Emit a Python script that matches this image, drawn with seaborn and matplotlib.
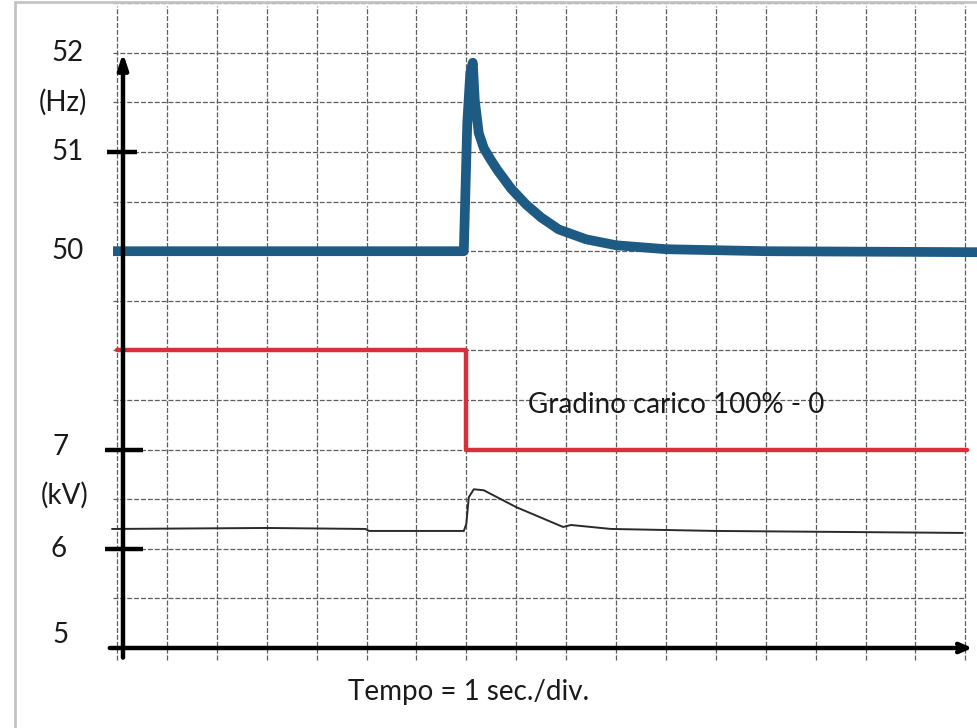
import matplotlib
matplotlib.use("Agg")
import matplotlib.pyplot as plt
from matplotlib.lines import Line2D
import seaborn as sns
import numpy as np

# frequency trace (s, Hz)
freq_t = [-0.08, 3.0, 6.95, 7.02, 7.08, 7.13, 7.17, 7.25, 7.35, 7.48, 7.62, 7.9, 8.2, 8.5, 8.85, 9.4, 10.0, 11.0, 13.0, 17.25]
freq_hz = [50.0, 50.0, 50.0, 51.3, 51.8, 51.9, 51.52, 51.19, 51.04, 50.93, 50.82, 50.63, 50.47, 50.34, 50.22, 50.12, 50.06, 50.02, 50.0, 49.99]

# voltage trace (s, kV)
volt_t = [-0.1, 3.0, 4.98, 5.05, 6.95, 7.0, 7.05, 7.15, 7.35, 8.0, 8.94, 9.1, 9.9, 12.0, 16.95]
volt_kv = [6.20, 6.21, 6.20, 6.18, 6.18, 6.25, 6.52, 6.60, 6.59, 6.42, 6.22, 6.24, 6.20, 6.18, 6.16]

# load step (s, %)
load_t = [0.0, 7.0, 17.03]
load_pct = [100, 0, 0]

hz_ticks = [52, 51, 50]
kv_ticks = [7, 6, 5]


# chart paper: 2 div per Hz (50 Hz at div 8), 2 div per kV (5 kV at div 0)
def hz_div(f):
    return 8 + 2 * (np.asarray(f) - 50)


def kv_div(v):
    return 2 * (np.asarray(v) - 5)


def load_div(p):
    return 4 + 2 * np.asarray(p) / 100


sns.set_style("white")
plt.rcParams['font.family'] = ['Lato', 'DejaVu Sans']

fig = plt.figure(figsize=(9.78, 7.28), dpi=100)
ax = fig.add_axes([0, 0, 1, 1])
ax.set_xlim(-117 / 49.9, (978 - 117) / 49.9)
ax.set_ylim(-80 / 49.6, 648 / 49.6)
ax.axis("off")

# grid of the recorder paper
grid_kw = dict(color="#5e5e5e", lw=0.9, linestyle=(0, (4, 1.5)), zorder=1)
ax.vlines(np.arange(0, 18), -0.25, 12.95, **grid_kw)
ax.hlines(np.arange(1, 14), -0.08, 17.0, **grid_kw)

sns.lineplot(x=load_t, y=load_div(load_pct), ax=ax, color="#d8303a", lw=3.2,
             drawstyle="steps-post", zorder=3)
sns.lineplot(x=freq_t, y=hz_div(freq_hz), ax=ax, color="#1e5b84", lw=7,
             solid_capstyle="butt", zorder=4)
sns.lineplot(x=volt_t, y=kv_div(volt_kv), ax=ax, color="#2a2a2a", lw=1.4, zorder=4)

# axes arrows
ax.annotate("", xy=(0.12, 12.05), xytext=(0.12, -0.25),
            arrowprops=dict(arrowstyle="-|>,head_width=0.3,head_length=0.9",
                            color="black", lw=3.2), zorder=5)
ax.annotate("", xy=(17.2, 0), xytext=(-0.2, 0),
            arrowprops=dict(arrowstyle="->,head_width=0.3,head_length=0.7",
                            color="black", lw=3.2), zorder=5)

# tick marks
ax.hlines(hz_div(51), -0.2, 0.4, color="black", lw=3.2, zorder=5)
ax.hlines(kv_div([7, 6]), -0.24, 0.52, color="black", lw=3.2, zorder=5)

lab = dict(fontsize=20, ha="center", va="center", color="#1a1a1a")
for f in hz_ticks:
    ax.text(-1.0, hz_div(f), str(f), **lab)
ax.text(-1.08, 11.0, "(Hz)", **lab)
ax.text(-1.14, kv_div(7) + 0.05, "7", **lab)
ax.text(-1.04, 3.08, "(kV)", **lab)
ax.text(-1.18, kv_div(6), "6", **lab)
ax.text(-1.14, 0.27, "5", **lab)

ax.text(11.2, 4.9, "Gradino carico 100% - 0", **lab)
ax.text(7.05, -0.89, "Tempo = 1 sec./div.", **lab)

# scan border
fig.add_artist(Line2D([15 / 978, 15 / 978], [0, 1 - 2 / 728], color="#c4c4c4", lw=2))
fig.add_artist(Line2D([15 / 978, 1], [1 - 2 / 728, 1 - 2 / 728], color="#c4c4c4", lw=2))

fig.savefig("out.png", dpi=100)
